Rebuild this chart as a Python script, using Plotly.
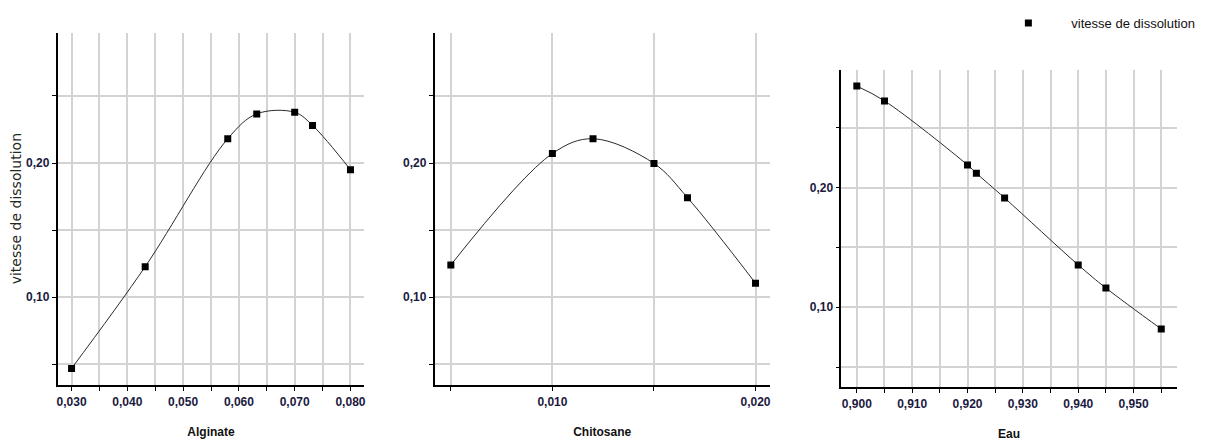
import plotly.graph_objects as go

# ---- data ----
alginate_x = [0.030, 0.0432, 0.058, 0.0632, 0.070, 0.0732, 0.080]
alginate_y = [0.047, 0.1228, 0.2181, 0.2366, 0.2378, 0.228, 0.195]

chitosane_x = [0.005, 0.010, 0.012, 0.015, 0.01665, 0.020]
chitosane_y = [0.1241, 0.2071, 0.2181, 0.1997, 0.1742, 0.1105]

eau_x = [0.900, 0.905, 0.920, 0.9216, 0.9267, 0.940, 0.945, 0.955]
eau_y = [0.285, 0.2726, 0.219, 0.2121, 0.1914, 0.1354, 0.1161, 0.0818]

series_name = "vitesse de dissolution"
x_titles = ["Alginate", "Chitosane", "Eau"]
y_title = "vitesse de dissolution"

# page body has an 8px margin; the figure fills the rest of the window
OFF = 8
W, H = 1211 - OFF, 441 - OFF

def dom_x(a, b):
    return [(a - OFF) / W, (b - OFF) / W]

def dom_y(top, bottom):
    return [1 - (bottom - OFF) / H, 1 - (top - OFF) / H]

TICK_FONT = dict(family="Liberation Sans, Arial", size=12, color="#1a1a40", weight="bold")
TITLE_FONT = dict(family="Liberation Sans, Arial", size=12, color="#111111", weight="bold")
GRID = "#d3d3d3"

fig = go.Figure()

panels = [
    (alginate_x, alginate_y, "x", "y"),
    (chitosane_x, chitosane_y, "x2", "y2"),
    (eau_x, eau_y, "x3", "y3"),
]
for i, (xs, ys, xa, ya) in enumerate(panels):
    fig.add_trace(go.Scatter(
        x=xs, y=ys, xaxis=xa, yaxis=ya, mode="lines",
        line=dict(color="#2a2a2a", width=1, shape="spline", smoothing=1.0),
        showlegend=False, hoverinfo="skip"))
    fig.add_trace(go.Scatter(
        x=xs, y=ys, xaxis=xa, yaxis=ya, mode="markers",
        marker=dict(symbol="square", size=7, color="black"),
        name=series_name, showlegend=(i == 0)))

def xaxis(domain, rng, tick0, title, anchor):
    return dict(
        domain=domain, range=rng, anchor=anchor, tick0=tick0, dtick=0.01, tickformat=".3f",
        showline=True, linecolor="black", linewidth=1.5,
        ticks="outside", ticklen=5, tickcolor="black", tickwidth=1,
        showgrid=True, gridcolor=GRID, gridwidth=1.5, zeroline=False,
        minor=dict(dtick=0.005, tick0=tick0, ticks="outside", ticklen=5,
                   tickcolor="black", showgrid=True, gridcolor=GRID, gridwidth=1.5),
        tickfont=TICK_FONT,
        title=dict(text=title, font=TITLE_FONT, standoff=20),
    )

def yaxis(domain, rng, anchor, title=None):
    d = dict(
        domain=domain, range=rng, anchor=anchor, tick0=0, dtick=0.1, tickformat=".2f",
        showline=True, linecolor="black", linewidth=1.5,
        ticks="outside", ticklen=4, tickcolor="black", tickwidth=1,
        showgrid=True, gridcolor=GRID, gridwidth=1.5, zeroline=False,
        minor=dict(dtick=0.05, tick0=0, ticks="outside", ticklen=4,
                   tickcolor="black", showgrid=True, gridcolor=GRID, gridwidth=1.5),
        tickfont=TICK_FONT,
    )
    if title:
        d["title"] = dict(text=title, font=dict(family="DejaVu Sans", size=14, color="#1f2a1f"), standoff=4)
    return d

fig.update_layout(
    width=W, height=H,
    margin=dict(l=0, r=0, t=0, b=0),
    paper_bgcolor="white", plot_bgcolor="white",
    separators=", ",
    xaxis=xaxis(dom_x(56.7, 364), [0.0275, 0.0825], 0, x_titles[0], "y"),
    yaxis=yaxis(dom_y(29, 384), [0.035, 0.297], "x", y_title),
    xaxis2=xaxis(dom_x(434.3, 770), [0.0042, 0.0207], 0, x_titles[1], "y2"),
    yaxis2=yaxis(dom_y(29, 384), [0.035, 0.297], "x2"),
    xaxis3=xaxis(dom_x(841.7, 1177.7), [0.8972, 0.9578], 0.9, x_titles[2], "y3"),
    yaxis3=yaxis(dom_y(66.7, 386), [0.0337, 0.2983], "x3"),
    legend=dict(x=(986 - OFF) / W, y=1 - (4 - OFF) / H, xanchor="left", yanchor="top",
                bgcolor="rgba(0,0,0,0)",
                font=dict(family="Liberation Sans, Arial", size=13, color="#111111"),
                itemwidth=76),
)

fig.write_html("out.html")
